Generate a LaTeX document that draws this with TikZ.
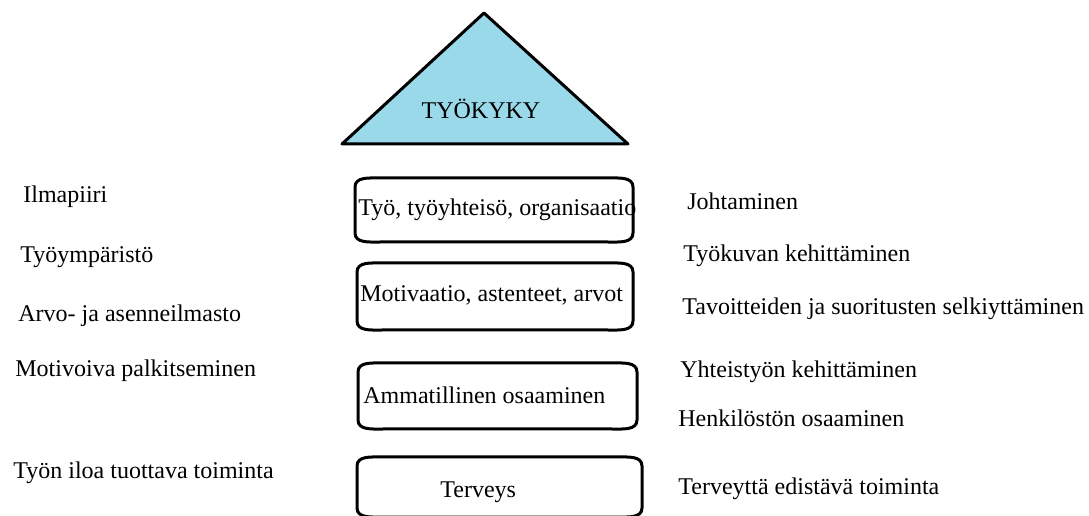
\documentclass[tikz,border=0pt]{standalone}
\usepackage{fontspec}
\setmainfont{Liberation Serif}
\definecolor{turkoosi}{RGB}{153,217,234}
\tikzstyle{teksti}=[inner sep=0,anchor=base west,font=\fontsize{12}{14}\selectfont]
\tikzstyle{otsikko}=[inner sep=0,anchor=base,font=\fontsize{12}{14}\selectfont]
\tikzstyle{kehys}=[line width=1.5pt]
% rounded box: left, top, right, bottom
\newcommand{\tynnyri}[4]{\draw[kehys] (#1,#2-9) to[out=90,in=180] (#1+25,#2) -- (#3-25,#2) to[out=0,in=90] (#3,#2-9) -- (#3,#4+9) to[out=-90,in=0] (#3-25,#4) -- (#1+25,#4) to[out=180,in=-90] (#1,#4+9) -- cycle;}

\begin{document}
\begin{tikzpicture}[x=0.5pt,y=0.5pt]
\useasboundingbox (0,0) rectangle (1089,515);
\draw[kehys,fill=turkoosi,line join=round] (342,371)--(484,502)--(628,371)--cycle;
\node[otsikko] (tyokyky) at (481,396) {TYÖKYKY};

\tynnyri{355}{337}{633}{273}
\tynnyri{357}{252}{633}{185}
\tynnyri{358}{152}{637}{86}
\tynnyri{357}{58}{642}{-2}
\node[teksti] (tyo) at (358,299) {Työ, työyhteisö, organisaatio};
\node[teksti] (motivaatio) at (360,213) {Motivaatio, astenteet, arvot};
\node[teksti] (ammatti) at (363,112) {Ammatillinen osaaminen};
\node[teksti] (terveys) at (440,18) {Terveys};

\node[teksti] (ilmapiiri) at (23,312) {Ilmapiiri};
\node[teksti] (ymparisto) at (20,252) {Työympäristö};
\node[teksti] (arvot) at (18,193) {Arvo- ja asenneilmasto};
\node[teksti] (palkitseminen) at (15,138) {Motivoiva palkitseminen};
\node[teksti] (ilo) at (13,37) {Työn iloa tuottava toiminta};

\node[teksti] (johtaminen) at (687,305) {Johtaminen};
\node[teksti] (tyokuva) at (683,253) {Työkuvan kehittäminen};
\node[teksti] (tavoitteet) at (682,200) {Tavoitteiden ja suoritusten selkiyttäminen};
\node[teksti] (yhteistyo) at (680,137) {Yhteistyön kehittäminen};
\node[teksti] (henkilosto) at (678,88) {Henkilöstön osaaminen};
\node[teksti] (edistava) at (678,20) {Terveyttä edistävä toiminta};
\end{tikzpicture}
\end{document}
